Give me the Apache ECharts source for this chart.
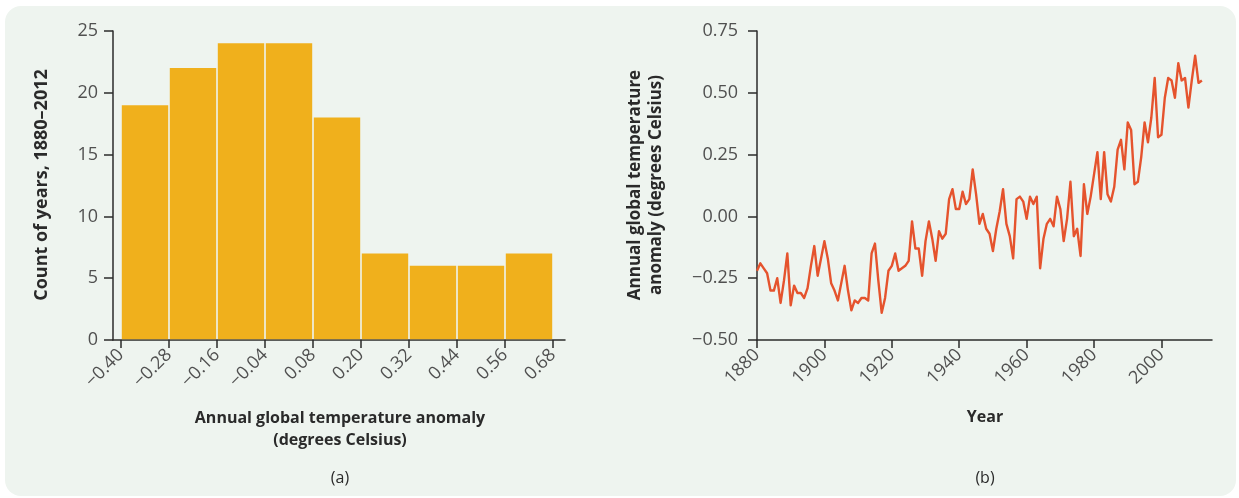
<!DOCTYPE html>
<html>
<head>
<meta charset="utf-8">
<script src="https://cdn.jsdelivr.net/npm/echarts@6/dist/echarts.min.js"></script>
<style>
  html, body { margin: 0; padding: 0; background: #ffffff; }
  #wrap { position: relative; width: 1239px; height: 498px; overflow: hidden; }
  #panel { position: absolute; left: 5px; top: 6px; width: 1231px; height: 490px;
           border-radius: 16px; background: #eef4ef; }
  #chart { position: absolute; left: 0; top: 0; width: 1239px; height: 498px; }
</style>
</head>
<body>
<div id="wrap"><div id="panel"></div><div id="chart"></div></div>
<script>
// (a) Histogram: number of years 1880–2012 falling in each 0.12 °C anomaly bin
const binEdges = [-0.40, -0.28, -0.16, -0.04, 0.08, 0.20, 0.32, 0.44, 0.56, 0.68];
const yearCounts = [19, 22, 24, 24, 18, 7, 6, 6, 7];
const countTicks = [0, 5, 10, 15, 20, 25];

// (b) Annual global temperature anomaly time series
const years = [
  1880, 1881, 1882, 1883, 1884, 1885, 1886, 1887, 1888, 1889,
  1890, 1891, 1892, 1893, 1894, 1895, 1896, 1897, 1898, 1899,
  1900, 1901, 1902, 1903, 1904, 1905, 1906, 1907, 1908, 1909,
  1910, 1911, 1912, 1913, 1914, 1915, 1916, 1917, 1918, 1919,
  1920, 1921, 1922, 1923, 1924, 1925, 1926, 1927, 1928, 1929,
  1930, 1931, 1932, 1933, 1934, 1935, 1936, 1937, 1938, 1939,
  1940, 1941, 1942, 1943, 1944, 1945, 1946, 1947, 1948, 1949,
  1950, 1951, 1952, 1953, 1954, 1955, 1956, 1957, 1958, 1959,
  1960, 1961, 1962, 1963, 1964, 1965, 1966, 1967, 1968, 1969,
  1970, 1971, 1972, 1973, 1974, 1975, 1976, 1977, 1978, 1979,
  1980, 1981, 1982, 1983, 1984, 1985, 1986, 1987, 1988, 1989,
  1990, 1991, 1992, 1993, 1994, 1995, 1996, 1997, 1998, 1999,
  2000, 2001, 2002, 2003, 2004, 2005, 2006, 2007, 2008, 2009,
  2010, 2011, 2012
];
const anomalies = [
  -0.22, -0.19, -0.21, -0.23, -0.30, -0.30, -0.25, -0.35, -0.26, -0.15,
  -0.36, -0.28, -0.31, -0.31, -0.33, -0.29, -0.20, -0.12, -0.24, -0.17,
  -0.10, -0.17, -0.27, -0.30, -0.34, -0.27, -0.20, -0.30, -0.38, -0.34,
  -0.35, -0.33, -0.33, -0.34, -0.15, -0.11, -0.26, -0.39, -0.33, -0.22,
  -0.20, -0.15, -0.22, -0.21, -0.20, -0.18, -0.02, -0.13, -0.13, -0.24,
  -0.10, -0.02, -0.09, -0.18, -0.06, -0.09, -0.07, 0.07, 0.11, 0.03,
  0.03, 0.10, 0.05, 0.07, 0.19, 0.09, -0.03, 0.01, -0.05, -0.07,
  -0.14, -0.05, 0.02, 0.11, -0.03, -0.08, -0.17, 0.07, 0.08, 0.06,
  -0.01, 0.08, 0.05, 0.08, -0.21, -0.09, -0.03, -0.01, -0.04, 0.08,
  0.03, -0.10, -0.01, 0.14, -0.08, -0.05, -0.16, 0.13, 0.01, 0.08,
  0.17, 0.26, 0.07, 0.26, 0.09, 0.06, 0.12, 0.27, 0.31, 0.19,
  0.38, 0.35, 0.13, 0.14, 0.24, 0.38, 0.30, 0.40, 0.56, 0.32,
  0.33, 0.48, 0.56, 0.55, 0.48, 0.62, 0.55, 0.56, 0.44, 0.55,
  0.65, 0.54, 0.55
];
const yearTicks = [1880, 1900, 1920, 1940, 1960, 1980, 2000];
const anomalyTicks = [-0.50, -0.25, 0.00, 0.25, 0.50, 0.75];

const AXIS = '#2b2b2b';
const LABEL = '#505050';
const TITLE = '#2a2a2a';
const FONT = '"Open Sans", "Noto Sans", sans-serif';

function signed(v, digits) {
  const s = Math.abs(v).toFixed(digits);
  return v < -1e-9 ? '\u2212' + s : s;
}

const axisLineStyle = { color: AXIS, width: 1.5 };

const chart = echarts.init(document.getElementById('chart'), null, { renderer: 'canvas' });

const histData = yearCounts.map((c, i) => [binEdges[i], binEdges[i + 1], c]);

chart.setOption({
  backgroundColor: 'transparent',
  animation: false,
  grid: [
    { left: 113, top: 31, width: 452, height: 309 },
    { left: 757, top: 31, width: 455, height: 309 }
  ],
  xAxis: [
    {
      gridIndex: 0, type: 'value', min: -0.42, max: 0.71,
      axisLine: { show: true, onZero: false, lineStyle: axisLineStyle },
      axisTick: { show: true, customValues: binEdges, length: 8, lineStyle: axisLineStyle },
      axisLabel: {
        customValues: binEdges, rotate: 45, margin: 12,
        formatter: v => signed(v, 2),
        color: LABEL, fontFamily: FONT, fontSize: 18
      },
      splitLine: { show: false }
    },
    {
      gridIndex: 1, type: 'value', min: 1880, max: 2015,
      axisLine: { show: true, onZero: false, lineStyle: axisLineStyle },
      axisTick: { show: true, customValues: yearTicks, length: 8, lineStyle: axisLineStyle },
      axisLabel: {
        customValues: yearTicks, rotate: 45, margin: 12,
        formatter: v => String(v),
        color: LABEL, fontFamily: FONT, fontSize: 18
      },
      splitLine: { show: false }
    }
  ],
  yAxis: [
    {
      gridIndex: 0, type: 'value', min: 0, max: 25, interval: 5,
      axisLine: { show: true, onZero: false, lineStyle: axisLineStyle },
      axisTick: { show: true, length: 9, lineStyle: axisLineStyle },
      axisLabel: { margin: 15, color: LABEL, fontFamily: FONT, fontSize: 18 },
      splitLine: { show: false }
    },
    {
      gridIndex: 1, type: 'value', min: -0.5, max: 0.75, interval: 0.25,
      axisLine: { show: true, onZero: false, lineStyle: axisLineStyle },
      axisTick: { show: true, length: 9, lineStyle: axisLineStyle },
      axisLabel: {
        margin: 19, formatter: v => signed(v, 2),
        color: LABEL, fontFamily: FONT, fontSize: 18
      },
      splitLine: { show: false }
    }
  ],
  series: [
    {
      type: 'custom', xAxisIndex: 0, yAxisIndex: 0,
      encode: { x: [0, 1], y: 2 },
      data: histData,
      renderItem: function (params, api) {
        const top = api.coord([api.value(0), api.value(2)]);
        const bottom = api.coord([api.value(1), 0]);
        return {
          type: 'rect',
          shape: { x: top[0] + 0.8, y: top[1], width: bottom[0] - top[0] - 1.6, height: bottom[1] - top[1] - 0.8 },
          style: { fill: '#f0b01c' }
        };
      },
      z: 1
    },
    {
      type: 'line', xAxisIndex: 1, yAxisIndex: 1,
      data: years.map((y, i) => [y, anomalies[i]]),
      showSymbol: false, smooth: false,
      lineStyle: { color: '#e5532d', width: 2.4, join: 'round' },
      z: 3
    }
  ],
  graphic: [
    { type: 'text', x: 42, y: 185, rotation: Math.PI / 2,
      style: { text: 'Count of years, 1880\u20132012', align: 'center', verticalAlign: 'middle',
               font: 'bold 18px ' + FONT, fill: TITLE } },
    { type: 'text', x: 340, y: 418,
      style: { text: 'Annual global temperature anomaly', align: 'center', verticalAlign: 'middle',
               font: 'bold 16px ' + FONT, fill: TITLE } },
    { type: 'text', x: 340, y: 440,
      style: { text: '(degrees Celsius)', align: 'center', verticalAlign: 'middle',
               font: 'bold 16px ' + FONT, fill: TITLE } },
    { type: 'text', x: 340, y: 478,
      style: { text: '(a)', align: 'center', verticalAlign: 'middle',
               font: '16px ' + FONT, fill: TITLE } },
    { type: 'text', x: 635, y: 185, rotation: Math.PI / 2,
      style: { text: 'Annual global temperature', align: 'center', verticalAlign: 'middle',
               font: 'bold 17px ' + FONT, fill: TITLE } },
    { type: 'text', x: 656, y: 185, rotation: Math.PI / 2,
      style: { text: 'anomaly (degrees Celsius)', align: 'center', verticalAlign: 'middle',
               font: 'bold 17px ' + FONT, fill: TITLE } },
    { type: 'text', x: 985, y: 417,
      style: { text: 'Year', align: 'center', verticalAlign: 'middle',
               font: 'bold 16px ' + FONT, fill: TITLE } },
    { type: 'text', x: 985, y: 478,
      style: { text: '(b)', align: 'center', verticalAlign: 'middle',
               font: '16px ' + FONT, fill: TITLE } }
  ]
});
</script>
</body>
</html>
